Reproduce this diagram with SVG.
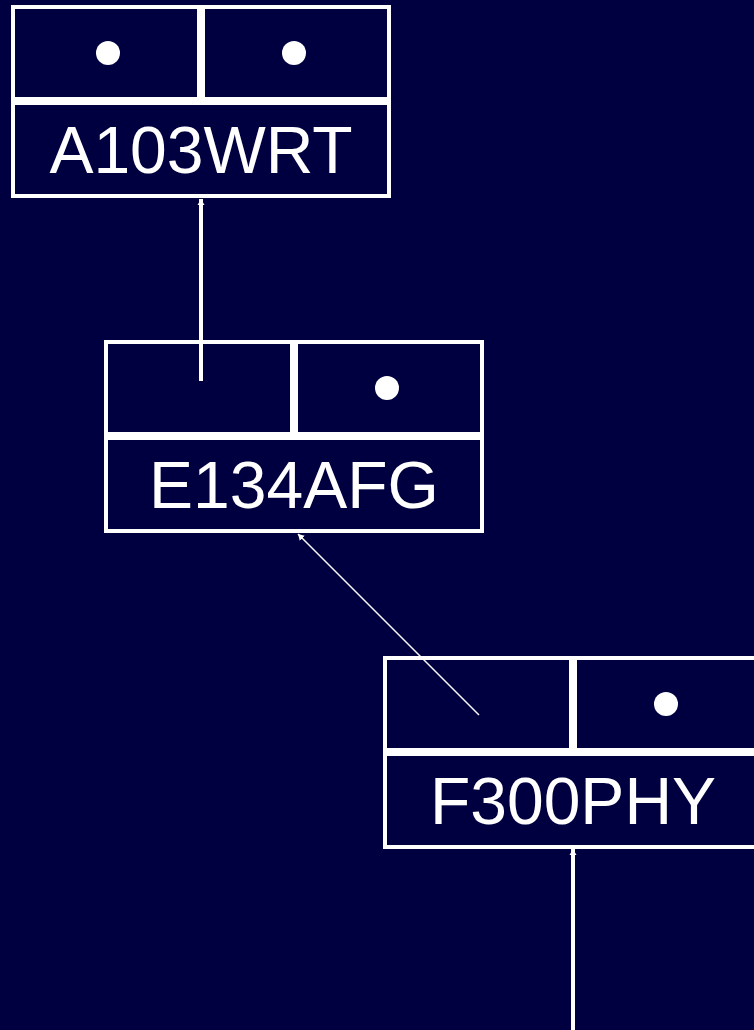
<svg xmlns="http://www.w3.org/2000/svg" width="754" height="1030" viewBox="0 0 754 1030">
<style>
.cell{fill:#000040;stroke:#ffffff;stroke-width:4}
.dot{fill:#ffffff}
.lbl{font-family:"Liberation Sans",Arial,sans-serif;font-size:66px;fill:#ffffff;text-anchor:middle}
.conn{stroke:#ffffff;fill:none}
</style>
<defs>
<marker id="arr" markerUnits="userSpaceOnUse" viewBox="0 0 6 8" refX="6" refY="4" markerWidth="6" markerHeight="8" orient="auto">
<path d="M0,0.5 L6,4 L0,7.5 z" fill="#ffffff"/>
</marker>
</defs>
<rect x="0" y="0" width="754" height="1030" fill="#000040"/>
<g id="node-A103WRT">
<rect class="cell" x="13" y="7" width="186" height="92"/>
<rect class="cell" x="203" y="7" width="186" height="92"/>
<rect class="cell" x="13" y="103" width="376" height="93"/>
<circle class="dot" cx="108" cy="53" r="12"/>
<circle class="dot" cx="294" cy="53" r="12"/>
<text class="lbl" x="201" y="173">A103WRT</text>
</g>
<g id="node-E134AFG" transform="translate(93,335)">
<rect class="cell" x="13" y="7" width="186" height="92"/>
<rect class="cell" x="203" y="7" width="186" height="92"/>
<rect class="cell" x="13" y="103" width="376" height="93"/>
<circle class="dot" cx="294" cy="53" r="12"/>
<text class="lbl" x="201" y="173">E134AFG</text>
</g>
<g id="node-F300PHY" transform="translate(372,651)">
<rect class="cell" x="13" y="7" width="186" height="92"/>
<rect class="cell" x="203" y="7" width="186" height="92"/>
<rect class="cell" x="13" y="103" width="376" height="93"/>
<circle class="dot" cx="294" cy="53" r="12"/>
<text class="lbl" x="201" y="173">F300PHY</text>
</g>
<g id="connectors">
<line class="conn" x1="201" y1="381" x2="201" y2="199" stroke-width="4" marker-end="url(#arr)"/>
<line class="conn" x1="479" y1="715" x2="298" y2="534" stroke-width="1.5" marker-end="url(#arr)"/>
<line class="conn" x1="573" y1="1030" x2="573" y2="849" stroke-width="4" marker-end="url(#arr)"/>
</g>
</svg>
